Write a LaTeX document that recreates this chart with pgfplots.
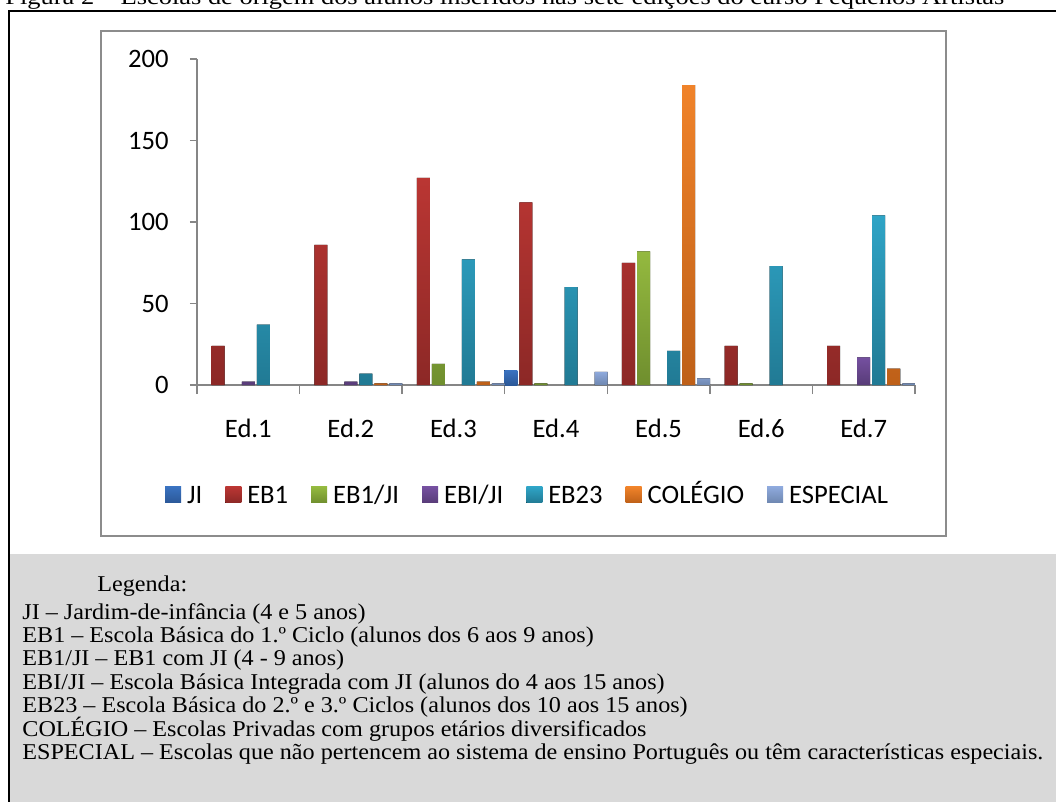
\documentclass[border=0pt]{standalone}
\usepackage{pgfplots}
\pgfplotsset{compat=1.18}
\usepackage{fontspec}
\setmainfont{Liberation Serif}
\newfontfamily\calibri{Carlito}

\definecolor{axgray}{HTML}{868686}
\definecolor{boxgray}{HTML}{8C8C8C}
\definecolor{leggray}{HTML}{D9D9D9}

\newlength\espw
\newlength\titw
\newcommand\legfont{\fontsize{11.3pt}{13pt}\selectfont}
\newcommand\txtline[1]{\scalebox{\sx}[1]{\legfont #1}}
\newcommand\titletext{Figura 2 – Escolas de origem dos alunos inseridos nas sete edições do curso Pequenos Artistas}

\begin{document}%
\settowidth{\espw}{\legfont ESPECIAL – Escolas que não pertencem ao sistema de ensino Português ou têm características especiais.}%
\settowidth{\titw}{\legfont\titletext}%
\pgfmathsetmacro\sx{510.5/\espw}%
\pgfmathsetmacro\tsx{499.5/\titw}%
\begin{tikzpicture}
\begin{scope}[x=0.5pt,y=-0.5pt]
  \begin{scope}
    \clip (0,0) rectangle (1056,802);
    \node[anchor=base west,inner sep=0pt] at (5,4.5) {\scalebox{\tsx}[1]{\legfont\titletext}};
  \end{scope}
  \draw[line width=0.7pt] (8,11) -- (1056,11);
  \draw[line width=0.7pt] (9,11) -- (9,802);
  \draw[boxgray,line width=1pt] (101,31) rectangle (946,536);
  \fill[leggray] (10,554) rectangle (1056,802);
  \node[anchor=base west,inner sep=0pt] at (97,591) {\txtline{Legenda:}};
  \node[anchor=base west,inner sep=0pt] at (22,619) {\txtline{JI – Jardim-de-infância (4 e 5 anos)}};
  \node[anchor=base west,inner sep=0pt] at (22,642.4) {\txtline{EB1 – Escola Básica do 1.º Ciclo (alunos dos 6 aos 9 anos)}};
  \node[anchor=base west,inner sep=0pt] at (22,665.8) {\txtline{EB1/JI – EB1 com JI (4 - 9 anos)}};
  \node[anchor=base west,inner sep=0pt] at (22,689.2) {\txtline{EBI/JI – Escola Básica Integrada com JI (alunos do 4 aos 15 anos)}};
  \node[anchor=base west,inner sep=0pt] at (22,712.6) {\txtline{EB23 – Escola Básica do 2.º e 3.º Ciclos (alunos dos 10 aos 15 anos)}};
  \node[anchor=base west,inner sep=0pt] at (22,736) {\txtline{COLÉGIO – Escolas Privadas com grupos etários diversificados}};
  \node[anchor=base west,inner sep=0pt] at (22,759.4) {\txtline{ESPECIAL – Escolas que não pertencem ao sistema de ensino Português ou têm características especiais.}};
\end{scope}

\begin{axis}[
  at={(98.5pt,-192.5pt)}, anchor=south west,
  scale only axis, width=359pt, height=163pt,
  xmin=-0.5, xmax=6.5, ymin=0, ymax=200,
  ybar=1pt, bar width=0.127,
  axis x line*=bottom, axis y line*=left,
  axis line style={draw=axgray, line width=0.7pt, -},
  tick align=outside,
  xtick={0,...,6},
  xticklabels={Ed.1,Ed.2,Ed.3,Ed.4,Ed.5,Ed.6,Ed.7},
  minor xtick={-0.5,0.5,...,6.5},
  major x tick style={draw=none},
  minor x tick style={draw=axgray, line width=0.7pt},
  minor tick length=4.5pt,
  ytick={0,50,100,150,200},
  major y tick style={draw=axgray, line width=0.7pt},
  major tick length=3.5pt,
  /pgf/number format/assume math mode=true,
  tick label style={font=\calibri\fontsize{13.3pt}{15pt}\selectfont},
  yticklabel style={anchor=east, inner sep=0pt, xshift=-10.5pt},
  xticklabel style={anchor=base, inner sep=0pt, yshift=-22.5pt},
  legend columns=-1,
  legend style={at={(axis description cs:0.459,-0.3374)}, anchor=center,
    draw=none, fill=none, font=\calibri\fontsize{13.3pt}{15pt}\selectfont,
    nodes={inner sep=0pt, text height=9.2pt, text depth=0.5pt},
    /tikz/every odd column/.append style={column sep=3pt},
    /tikz/every even column/.append style={column sep=11.5pt}},
  legend image code/.code={\path[#1] (0pt,-4pt) rectangle (8pt,4pt);},
]
\addplot[draw=none, fill, top color={rgb,255:red,58;green,114;blue,192}, bottom color={rgb,255:red,43;green,88;blue,152}]
  coordinates {(3,9)};
\addplot[draw=none, fill, top color={rgb,255:red,186;green,54;blue,51}, bottom color={rgb,255:red,140;green,40;blue,38}]
  coordinates {(0,24) (1,86) (2,127) (3,112) (4,75) (5,24) (6,24)};
\addplot[draw=none, fill, top color={rgb,255:red,148;green,185;blue,63}, bottom color={rgb,255:red,111;green,142;blue,46}]
  coordinates {(2,13) (3,1) (4,82) (5,1)};
\addplot[draw=none, fill, top color={rgb,255:red,117;green,80;blue,160}, bottom color={rgb,255:red,88;green,60;blue,120}]
  coordinates {(0,2) (1,2) (6,17)};
\addplot[draw=none, fill, top color={rgb,255:red,47;green,164;blue,198}, bottom color={rgb,255:red,33;green,122;blue,148}]
  coordinates {(0,37) (1,7) (2,77) (3,60) (4,21) (5,73) (6,104)};
\addplot[draw=none, fill, top color={rgb,255:red,240;green,131;blue,42}, bottom color={rgb,255:red,190;green,96;blue,24}]
  coordinates {(1,1) (2,2) (4,184) (6,10)};
\addplot[draw=none, fill, top color={rgb,255:red,142;green,169;blue,220}, bottom color={rgb,255:red,110;green,135;blue,176}]
  coordinates {(1,1) (2,1) (3,8) (4,4) (6,1)};
\legend{JI,EB1,EB1/JI,EBI/JI,EB23,COLÉGIO,ESPECIAL}
\end{axis}
\pgfresetboundingbox
\useasboundingbox (0pt,0pt) rectangle (528pt,-401pt);
\end{tikzpicture}%
\end{document}
